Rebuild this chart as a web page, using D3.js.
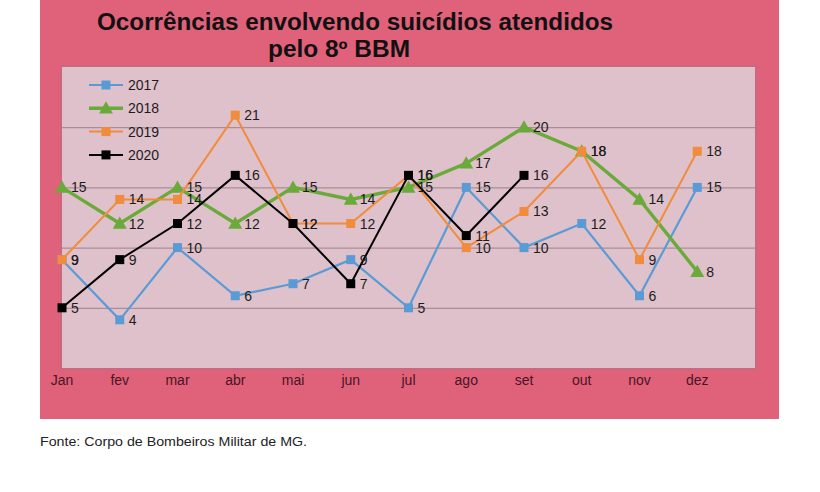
<!DOCTYPE html>
<html>
<meta charset="utf-8">
<script src="https://d3js.org/d3.v7.min.js"></script>
<style>
  body { margin: 0; background: #fff; }
  text { font-family: "Liberation Sans", Arial, sans-serif; }
</style>
<body>
<div id="chart"></div>
<script>
// months shown on the x axis
var months = ["Jan", "fev", "mar", "abr", "mai", "jun", "jul", "ago", "set", "out", "nov", "dez"];

// values per year (2020 stops in september)
var v2017 = [9, 4, 10, 6, 7, 9, 5, 15, 10, 12, 6, 15];
var v2018 = [15, 12, 15, 12, 15, 14, 15, 17, 20, 18, 14, 8];
var v2019 = [9, 14, 14, 21, 12, 12, 16, 10, 13, 18, 9, 18];
var v2020 = [5, 9, 12, 16, 12, 7, 16, 11, 16];

var gridTicks = [5, 10, 15, 20];

var series = [
  { name: "2017", values: v2017, color: "#5b9bd5", width: 2.2, marker: "square" },
  { name: "2018", values: v2018, color: "#6aaa3a", width: 3.4, marker: "triangle" },
  { name: "2019", values: v2019, color: "#f08c3c", width: 2, marker: "square" },
  { name: "2020", values: v2020, color: "#000000", width: 2, marker: "square" }
];

var W = 820, H = 492;
var svg = d3.select("#chart").append("svg").attr("width", W).attr("height", H);

// outer pink panel
svg.append("rect").attr("x", 40).attr("y", 0).attr("width", 739).attr("height", 419)
  .attr("fill", "#e0627a");

// plot area
var plot = { left: 62, top: 67, right: 755, bottom: 368 };
svg.append("rect")
  .attr("x", plot.left - 1).attr("y", plot.top - 1)
  .attr("width", plot.right - plot.left + 2).attr("height", plot.bottom - plot.top + 2)
  .attr("fill", "none").attr("stroke", "#c9687e").attr("stroke-width", 2);
svg.append("rect")
  .attr("x", plot.left).attr("y", plot.top)
  .attr("width", plot.right - plot.left).attr("height", plot.bottom - plot.top)
  .attr("fill", "#dfc1cb");

var x = d3.scaleLinear().domain([0, 12]).range([plot.left, plot.right]);
var y = d3.scaleLinear().domain([0, 25]).range([plot.bottom, plot.top]);

// gridlines
svg.append("g").selectAll("line").data(gridTicks).enter().append("line")
  .attr("x1", plot.left).attr("x2", plot.right)
  .attr("y1", function (d) { return y(d) + 0.5; })
  .attr("y2", function (d) { return y(d) + 0.5; })
  .attr("stroke", "#9d8088").attr("stroke-width", 1);

// month labels
svg.append("g").selectAll("text").data(months).enter().append("text")
  .attr("x", function (d, i) { return x(i); })
  .attr("y", 385)
  .attr("text-anchor", "middle")
  .attr("font-size", "14px")
  .attr("fill", "#4a1424")
  .text(function (d) { return d; });

// title
svg.append("text").attr("x", 355).attr("y", 30).attr("text-anchor", "middle")
  .attr("font-size", "23px").attr("font-weight", "bold").attr("fill", "#111")
  .attr("textLength", 516).attr("lengthAdjust", "spacingAndGlyphs")
  .text("Ocorrências envolvendo suicídios atendidos");
svg.append("text").attr("x", 339).attr("y", 57).attr("text-anchor", "middle")
  .attr("font-size", "23px").attr("font-weight", "bold").attr("fill", "#111")
  .attr("textLength", 142).attr("lengthAdjust", "spacingAndGlyphs")
  .text("pelo 8º BBM");

function drawMarker(g, type, cx, cy, color) {
  if (type === "triangle") {
    var s = 7;
    g.append("path")
      .attr("d", "M" + cx + "," + (cy - s) + "L" + (cx + s) + "," + (cy + s * 0.75) +
        "L" + (cx - s) + "," + (cy + s * 0.75) + "Z")
      .attr("fill", color);
  } else {
    g.append("rect").attr("x", cx - 4.5).attr("y", cy - 4.5)
      .attr("width", 9).attr("height", 9).attr("fill", color);
  }
}

var line = d3.line()
  .x(function (d, i) { return x(i); })
  .y(function (d) { return y(d); });

series.forEach(function (s) {
  var g = svg.append("g");
  g.append("path").datum(s.values).attr("d", line)
    .attr("fill", "none").attr("stroke", s.color)
    .attr("stroke-width", s.width).attr("stroke-linejoin", "miter");
  s.values.forEach(function (v, i) {
    drawMarker(g, s.marker, x(i), y(v), s.color);
  });
});

// data labels on top of everything
series.forEach(function (s) {
  svg.append("g").selectAll("text").data(s.values).enter().append("text")
    .attr("x", function (d, i) { return x(i) + 9; })
    .attr("y", function (d) { return y(d) + 5; })
    .attr("font-size", "14px")
    .attr("fill", "#1c1c1c")
    .text(function (d) { return d; });
});

// legend
var legend = svg.append("g");
series.forEach(function (s, i) {
  var ly = 85 + i * 23.3;
  legend.append("line").attr("x1", 89).attr("x2", 123).attr("y1", ly).attr("y2", ly)
    .attr("stroke", s.color).attr("stroke-width", s.width);
  drawMarker(legend, s.marker, 106, ly, s.color);
  legend.append("text").attr("x", 128).attr("y", ly + 5)
    .attr("font-size", "14px").attr("fill", "#1c1c1c").text(s.name);
});

// source note
svg.append("text").attr("x", 40).attr("y", 446)
  .attr("font-size", "12px").attr("fill", "#222")
  .attr("textLength", 267).attr("lengthAdjust", "spacingAndGlyphs")
  .text("Fonte: Corpo de Bombeiros Militar de MG.");
</script>
</body>
</html>
